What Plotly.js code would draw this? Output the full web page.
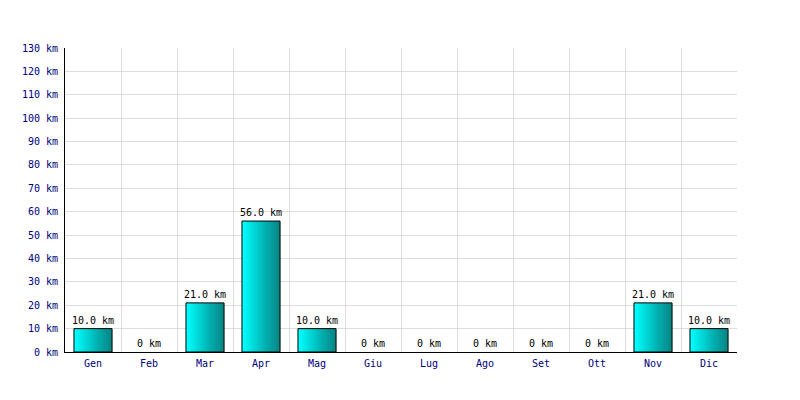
<!DOCTYPE html>
<html>
<head>
<meta charset="utf-8">
<script src="https://cdn.plot.ly/plotly-3.0.1.min.js"></script>
<style>html,body{margin:0;padding:0;background:#fff;}#chart{width:800px;height:400px;}</style>
</head>
<body>
<div id="chart"></div>
<script>
var months = ["Gen","Feb","Mar","Apr","Mag","Giu","Lug","Ago","Set","Ott","Nov","Dic"];
var distances = [10.0, 0, 21.0, 56.0, 10.0, 0, 0, 0, 0, 0, 21.0, 10.0];
var yTickVals = [0,10,20,30,40,50,60,70,80,90,100,110,120,130];
var yTickText = yTickVals.map(function(v){ return v + " km"; });

var labels = distances.map(function(v){ return v === 0 ? "0 km" : v.toFixed(1) + " km"; });
var xs = months.map(function(m, i){ return i; });

var FONT = "DejaVu Sans Mono, monospace";
var barW = 0.68;
var N = 38;
var traces = [];
// dummy trace to activate xaxis2 gridlines at category boundaries
traces.push({type: "scatter", x: [0], y: [0], xaxis: "x2", mode: "markers", marker: {opacity: 0}, hoverinfo: "skip", showlegend: false});
function lerp(a, b, t){ return Math.round(a + (b - a) * t); }
for (var k = 0; k < N; k++) {
  var t = k / (N - 1);
  var col = "rgb(0," + lerp(255, 128, t) + "," + lerp(255, 128, t) + ")";
  traces.push({
    type: "bar", x: xs, y: distances,
    width: barW / N + 0.002, offset: -barW / 2 + k * barW / N,
    marker: {color: col, line: {width: 0}},
    hoverinfo: "skip", showlegend: false
  });
}
traces.push({
  type: "bar", x: xs, y: distances,
  width: barW, offset: -barW / 2,
  marker: {color: "rgba(0,0,0,0)", line: {width: distances.map(function(v){ return v === 0 ? 0 : 1; }), color: "#000"}},
  hoverinfo: "skip", showlegend: false
});
traces.push({
  type: "scatter", mode: "markers+text", x: xs, y: distances, text: labels,
  textposition: "top center",
  marker: {size: 2, opacity: 0},
  textfont: {family: FONT, size: 10, color: "#000"},
  hoverinfo: "skip", showlegend: false, cliponaxis: false
});

var layout = {
  width: 800, height: 400,
  margin: {l: 65, r: 63, t: 48, b: 48},
  paper_bgcolor: "#fff", plot_bgcolor: "#fff",
  barmode: "overlay",
  font: {family: FONT, size: 10, color: "#000080"},
  xaxis: {
    type: "linear", range: [-0.5, 11.5],
    tickmode: "array", tickvals: xs, ticktext: months,
    showgrid: false, zeroline: false,
    showline: true, linecolor: "#000", linewidth: 1,
    ticks: "", ticklen: 0, ticklabelstandoff: 2,
    tickfont: {family: FONT, size: 10, color: "#000080"},
    fixedrange: true
  },
  xaxis2: {
    overlaying: "x", type: "linear", range: [-0.5, 11.5],
    tick0: -0.5, dtick: 1, showgrid: true, gridcolor: "#dddddd", gridwidth: 1,
    showticklabels: false, zeroline: false, showline: false, ticks: ""
  },
  yaxis: {
    range: [0, 130], tickmode: "array", tickvals: yTickVals, ticktext: yTickText,
    showgrid: true, gridcolor: "#dddddd", gridwidth: 1,
    zeroline: false, showline: true, linecolor: "#000", linewidth: 1,
    ticks: "", ticklen: 0, ticklabelstandoff: 4,
    tickfont: {family: FONT, size: 10, color: "#000080"},
    fixedrange: true
  }
};

Plotly.newPlot("chart", traces, layout, {staticPlot: true});
</script>
</body>
</html>
